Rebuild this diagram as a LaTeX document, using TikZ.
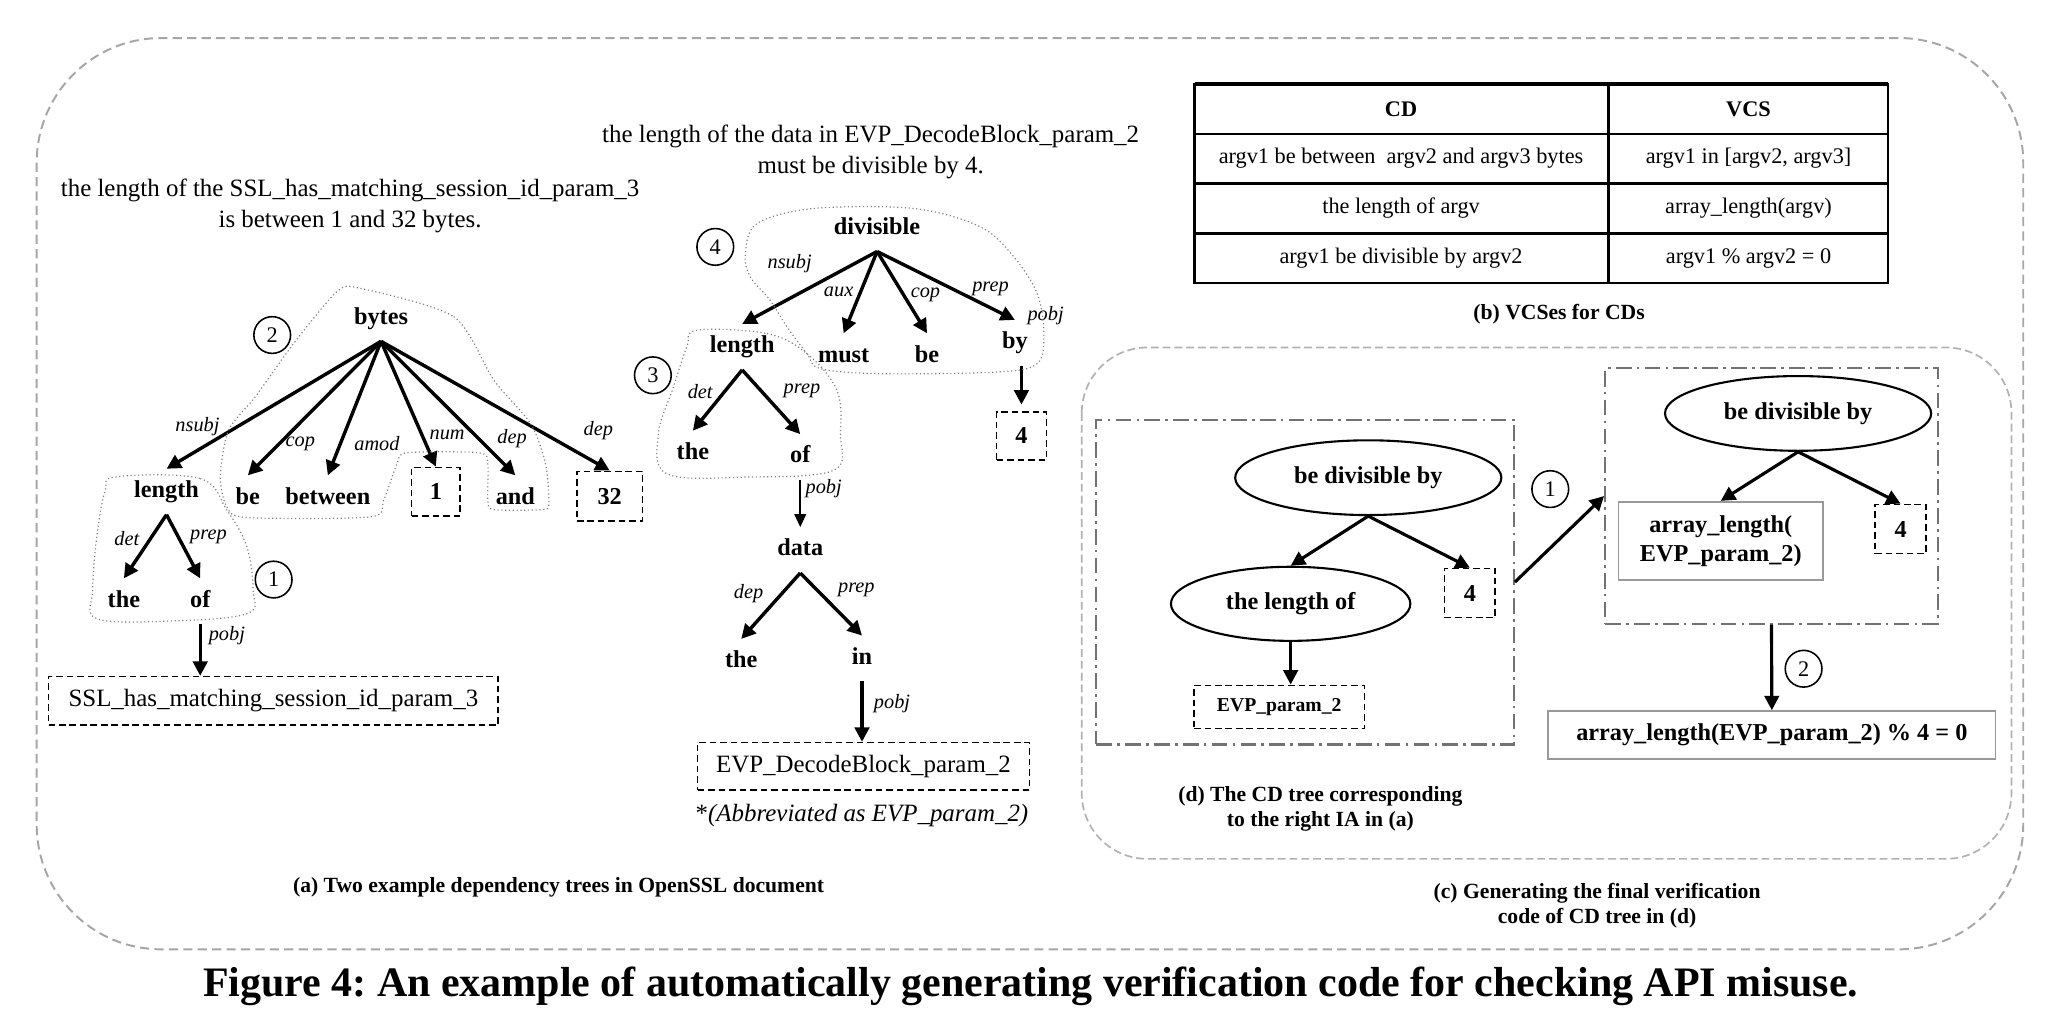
\documentclass[tikz,border=0pt]{standalone}
\usepackage{fontspec}
\setmainfont{Liberation Serif}
\usetikzlibrary{arrows.meta,shapes.geometric}
\frenchspacing

\begin{document}
\begin{tikzpicture}[x=1pt,y=-1pt,
	word/.style={font=\bfseries\fontsize{18.5}{20}\selectfont, inner sep=0pt, text height=13pt, text depth=4pt, outer ysep=9pt},
	rel/.style={font=\itshape\fontsize{15.5}{17}\selectfont, inner sep=0pt},
	sent/.style={font=\fontsize{19}{23}\selectfont, align=center, inner sep=0pt},
	subcap/.style={font=\bfseries\fontsize{16.5}{19}\selectfont, align=center, inner sep=0pt},
	cell/.style={font=\fontsize{17}{19}\selectfont, inner sep=0pt},
	dbox/.style={draw, dash pattern=on 5pt off 3pt, line width=1.2pt, font=\bfseries\fontsize{18.5}{20}\selectfont, inner sep=0pt},
	gbox/.style={draw=black!40, line width=1.4pt, font=\bfseries\fontsize{18.5}{22}\selectfont, align=center, inner sep=0pt},
	ddbox/.style={draw=black!55, dash pattern=on 12pt off 4pt on 2pt off 4pt, line width=1.6pt, inner sep=0pt},
	ell/.style={draw, ellipse, line width=1.6pt, minimum width=203pt, minimum height=57pt, inner sep=0pt, font=\bfseries\fontsize{18.5}{20}\selectfont},
	num/.style={draw, circle, line width=1.2pt, minimum size=28pt, inner sep=0pt, font=\fontsize{17}{17}\selectfont},
	deparrow/.style={-{Triangle[length=11pt,width=11pt]}, line width=2.6pt},
	thinarrow/.style={-{Triangle[length=10pt,width=9pt]}, line width=1.2pt},
	blob/.style={draw=black!50, dotted, line width=0.9pt}]
	\useasboundingbox (0,0) rectangle (1568,781);
	\draw[black!35, dash pattern=on 7pt off 4pt, line width=1.5pt, rounded corners=95pt] (28,29) rectangle (1543,724);

	\node[sent] (s1) at (267,157) {the length of the SSL\_has\_matching\_session\_id\_param\_3\\is between 1 and 32 bytes.};
	\node[word] (t1bytes) at (290.6,242.8) {bytes};
	\node[word] (t1length) at (127,375) {length};
	\node[word] (t1be) at (189,380) {be};
	\node[word] (t1between) at (250,380) {between};
	\node[dbox, minimum width=37pt, minimum height=37pt] (t1one) at (332.4,375) {1};
	\node[word] (t1and) at (393,380) {and};
	\node[dbox, minimum width=50pt, minimum height=38pt] (t1tt) at (465,378.5) {32};
	\node[word] (t1the) at (94.5,458.6) {the};
	\node[word] (t1of) at (152.7,458.6) {of};
	\node[dbox, font=\fontsize{19}{23}\selectfont, minimum width=343pt, minimum height=37pt] (t1ssl) at (208.5,534.5) {SSL\_has\_matching\_session\_id\_param\_3};
	\draw[deparrow] (t1bytes.south) -- (t1length.north);
	\draw[deparrow] (t1bytes.south) -- (t1be.north);
	\draw[deparrow] (t1bytes.south) -- (t1between.north);
	\draw[deparrow] (t1bytes.south) -- (t1one.north);
	\draw[deparrow] (t1bytes.south) -- (t1and.north);
	\draw[deparrow] (t1bytes.south) -- (t1tt.north);
	\draw[deparrow] (t1length.south) -- (t1the.north);
	\draw[deparrow] (t1length.south) -- (t1of.north);
	\draw[deparrow] (t1of.south) -- (t1of.south |- t1ssl.north);
	\node[rel] (l1a) at (150.6,325.5) {nsubj};
	\node[rel] (l1b) at (229,338.2) {cop};
	\node[rel] (l1c) at (287.5,338.2) {amod};
	\node[rel] (l1d) at (341,331.9) {num};
	\node[rel] (l1e) at (390.6,334.4) {dep};
	\node[rel] (l1f) at (456.3,328.1) {dep};
	\node[rel] (l1g) at (96.7,410.7) {det};
	\node[rel] (l1h) at (159,409.5) {prep};
	\node[rel] (l1i) at (173,484.5) {pobj};
	\draw[blob] plot[smooth cycle, tension=0.6] coordinates {(89,363.6) (152.7,365) (173,389) (188.3,417) (193,450) (188.3,468) (129.8,473.6) (73.8,471.8) (70.7,450) (73.8,409.5) (80,375)};
	\draw[blob] plot[smooth cycle, tension=0.45] coordinates {(274.8,219.9) (346,241.5) (376.6,289.9) (404.6,323) (416,353.5) (418.6,384) (413.5,388.6) (376.6,388.6) (372,381.5) (372,353.5) (365.2,345.3) (310.4,345.3) (302.8,353.5) (292.6,381.5) (282.5,394.2) (188.3,394.7) (173,386.6) (168,363.6) (174.3,328) (194.7,302.6) (224,261.9) (257,222.4)};
	\node[num] (m2) at (207.6,255.5) {2};
	\node[num] (m1) at (208.7,442) {1};

	\node[sent] (s2) at (664,115.8) {the length of the data in EVP\_DecodeBlock\_param\_2\\must be divisible by 4.};
	\node[word] (t2div) at (668.9,174.3) {divisible};
	\node[word] (t2length) at (566,264.6) {length};
	\node[word] (t2must) at (643.4,271.7) {must};
	\node[word] (t2be) at (707,271.7) {be};
	\node[word] (t2by) at (774,261.5) {by};
	\node[dbox, minimum width=38pt, minimum height=36.5pt] (t2four) at (779,332.4) {4};
	\node[word] (t2the) at (528.4,346) {the};
	\node[word] (t2of) at (610.3,348.6) {of};
	\node[word] (t2data) at (610.3,419.5) {data};
	\node[word] (t2theb) at (565.3,504.8) {the};
	\node[word] (t2in) at (657.4,502.2) {in};
	\node[dbox, font=\fontsize{19}{23}\selectfont, minimum width=253pt, minimum height=36.3pt] (t2evp) at (658.5,584.5) {EVP\_DecodeBlock\_param\_2};
	\node[sent] (abbr) at (657.4,621.8) {*\textit{(Abbreviated as EVP\_param\_2)}};
	\draw[deparrow] (t2div.south) -- (t2length.north);
	\draw[deparrow] (t2div.south) -- (t2must.north);
	\draw[deparrow] (t2div.south) -- (t2be.north);
	\draw[deparrow] (t2div.south) -- (t2by.north);
	\draw[deparrow, shorten >=5pt] (t2four.north |- t2by.south) -- (t2four.north);
	\draw[deparrow] (t2length.south) -- (t2the.north);
	\draw[deparrow] (t2length.south) -- (t2of.north);
	\draw[thinarrow] (t2of.south) -- (t2data.north);
	\draw[deparrow] (t2data.south) -- (t2theb.north);
	\draw[deparrow] (t2data.south) -- (t2in.north);
	\draw[deparrow] (t2in.south) -- (t2in.south |- t2evp.north);
	\node[rel] (l2a) at (602.2,201) {nsubj};
	\node[rel] (l2b) at (639.6,222.6) {aux};
	\node[rel] (l2c) at (705.8,225.2) {cop};
	\node[rel] (l2d) at (755.4,220) {prep};
	\node[rel] (l2e) at (797.4,240.4) {pobj};
	\node[rel] (l2f) at (534,298.4) {det};
	\node[rel] (l2g) at (611.6,298) {prep};
	\node[rel] (l2h) at (628.2,372.7) {pobj};
	\node[rel] (l2i) at (570.9,452.6) {dep};
	\node[rel] (l2j) at (653.1,450) {prep};
	\node[rel] (l2k) at (680.3,536.6) {pobj};
	\draw[blob] plot[smooth cycle, tension=0.6] coordinates {(531.5,251.9) (584.9,254.4) (615.4,269.7) (638.3,297.7) (640.9,330.7) (635.8,358.7) (569.6,363.8) (508.6,361.3) (502.2,330.7) (513.6,295.2) (523.8,264.6)};
	\draw[blob] plot[smooth cycle, tension=0.55] coordinates {(577.3,170.5) (620.5,159) (696.9,159) (747.7,173) (773.2,195.9) (791,223.9) (796.1,254.4) (791,277.3) (760.5,283.7) (671.4,285) (625.6,281.1) (615.4,269.7) (600.2,249.3) (587.4,229) (572.2,211.2) (568.4,193.3)};
	\node[num] (m4) at (545.5,188.3) {4};
	\node[num] (m3) at (497.9,286.2) {3};
	\node[subcap] (capa) at (426,676.5) {(a) Two example dependency trees in OpenSSL document};

	\draw[line width=1.8pt] (911,64) rectangle (1440,216);
	\draw[line width=3pt] (911,64) -- (1440,64);
	\draw[line width=1.8pt] (1226.7,64) -- (1226.7,216) (911,102) -- (1440,102) (911,140) -- (1440,140) (911,178) -- (1440,178);
	\node[cell, font=\bfseries\fontsize{17}{19}\selectfont] (hcd) at (1068.5,83) {CD};
	\node[cell, font=\bfseries\fontsize{17}{19}\selectfont] (hvcs) at (1333.5,83) {VCS};
	\node[cell] (cd1) at (1068.5,121) {argv1 be between\ \ argv2 and argv3 bytes};
	\node[cell] (vcs1) at (1333.5,121) {argv1 in [argv2, argv3]};
	\node[cell] (cd2) at (1068.5,159) {the length of argv};
	\node[cell] (vcs2) at (1333.5,159) {array\_length(argv)};
	\node[cell] (cd3) at (1068.5,197) {argv1 be divisible by argv2};
	\node[cell] (vcs3) at (1333.5,197) {argv1 \% argv2 = 0};
	\node[subcap] (capb) at (1189,239.5) {(b) VCSes for CDs};

	\draw[black!30, dash pattern=on 6pt off 3pt, line width=1.3pt, rounded corners=50pt] (825,265) rectangle (1534,655);
	\node[ddbox, minimum width=318.5pt, minimum height=247.7pt] (dbox) at (995.3,443.9) {};
	\node[ell] (e1) at (1043.5,364.3) {be divisible by};
	\node[ell, minimum width=182.6pt, minimum height=56.5pt] (e2) at (984.3,460.5) {the length of};
	\node[dbox, minimum width=38.7pt, minimum height=37.4pt] (d4) at (1121,452.3) {4};
	\node[dbox, font=\bfseries\fontsize{15}{17}\selectfont, minimum width=130pt, minimum height=33pt] (devp) at (975.6,539.2) {EVP\_param\_2};
	\draw[deparrow, line width=2.4pt] (e1.south) -- (e2.north);
	\draw[deparrow, line width=2.4pt] (e1.south) -- (d4.north);
	\draw[deparrow, line width=2.4pt] (e2.south) -- (e2.south |- devp.north);
	\node[subcap] (capd) at (1007,617) {(d) The CD tree corresponding\\to the right IA in (a)};

	\node[ddbox, minimum width=253.7pt, minimum height=194.7pt] (ebox) at (1351,378.3) {};
	\node[ell] (e3) at (1371.3,315.3) {be divisible by};
	\node[gbox, minimum width=156pt, minimum height=59.8pt] (earr) at (1312.3,412.6) {array\_length(\\EVP\_param\_2)};
	\node[dbox, minimum width=38.7pt, minimum height=37.5pt] (e4) at (1449.5,403.5) {4};
	\draw[deparrow, line width=2.4pt] (e3.south) -- (earr.north);
	\draw[deparrow, line width=2.4pt] (e3.south) -- (e4.north);
	\draw[deparrow, line width=2.4pt] (dbox.east) -- (ebox.west);
	\node[num] (m5) at (1182.3,373) {1};
	\node[gbox, minimum width=341pt, minimum height=36.3pt] (final) at (1351.3,560.5) {array\_length(EVP\_param\_2) \% 4 = 0};
	\draw[deparrow, line width=2.4pt] (ebox.south) -- (final.north);
	\node[num] (m6) at (1375.5,510) {2};
	\node[subcap] (capc) at (1218,690.5) {(c) Generating the final verification\\code of CD tree in (d)};

	\node[font=\bfseries\fontsize{32}{34}\selectfont, inner sep=0pt] (fig) at (786,752) {Figure 4: An example of automatically generating verification code for checking API misuse.};
\end{tikzpicture}
\end{document}
